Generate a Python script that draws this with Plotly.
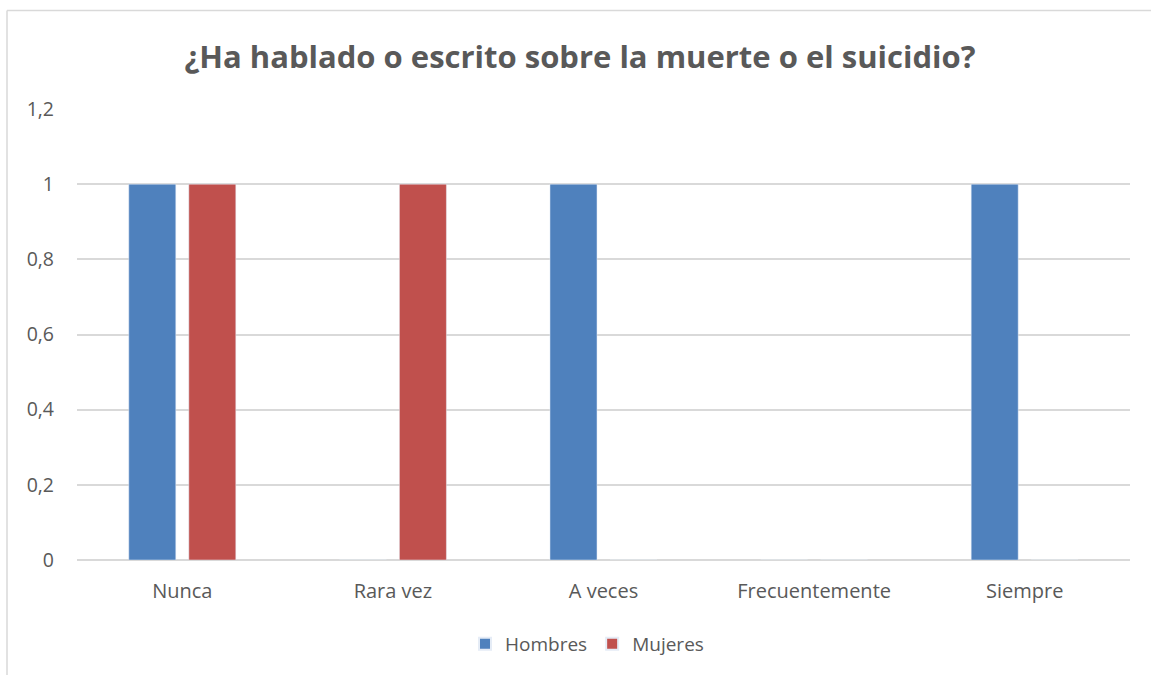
import plotly.graph_objects as go

categories = ["Nunca", "Rara vez", "A veces", "Frecuentemente", "Siempre"]
hombres = [1, 0, 1, 0, 1]
mujeres = [1, 1, 0, 0, 0]
y_ticks = [0, 0.2, 0.4, 0.6, 0.8, 1, 1.2]
y_tick_labels = ["0", "0,2", "0,4", "0,6", "0,8", "1", "1,2"]

W, H = 1151, 675
L, R, T, B = 77, 1130, 109, 560

FONT = "Open Sans"
TXT = "#595959"

fig = go.Figure()
fig.add_trace(go.Bar(name="Hombres", x=categories, y=hombres, marker_color="#4F81BD"))
fig.add_trace(go.Bar(name="Mujeres", x=categories, y=mujeres, marker_color="#C0504D"))

pw = R - L
ph = B - T
def px_x(x):
    return (x - L) / pw
def px_y(y):
    return (B - y) / ph

fig.update_layout(
    width=W, height=H,
    margin=dict(l=L, r=W - R, t=T, b=H - B, pad=0),
    paper_bgcolor="white", plot_bgcolor="white",
    barmode="group", bargap=0.43, bargroupgap=0.217,
    font=dict(family=FONT, color=TXT, size=19),
    title=dict(text="<b>¿Ha hablado o escrito sobre la muerte o el suicidio?</b>",
               x=px_x(580), xanchor="center", xref="paper", y=1 - 57 / H, yanchor="middle",
               yref="container", font=dict(size=31, color=TXT, family=FONT)),
    legend=dict(orientation="h", x=px_x(587), xanchor="center", y=px_y(644), yanchor="middle",
                font=dict(size=19, color=TXT), itemsizing="constant", itemwidth=30,
                traceorder="normal"),
    xaxis=dict(showgrid=False, showline=False, ticks="", ticklabelstandoff=17,
               tickfont=dict(size=20, color=TXT)),
    yaxis=dict(range=[0, 1.2], tickvals=y_ticks, ticktext=y_tick_labels, showgrid=True,
               gridcolor="#D9D9D9", gridwidth=1.5, zeroline=True, zerolinecolor="#D9D9D9",
               zerolinewidth=1.5, showline=False, ticks="", ticklabelstandoff=22,
               tickfont=dict(size=19.5, color=TXT)),
    shapes=[
        dict(type="line", xref="paper", yref="paper", x0=px_x(7), x1=px_x(7), y0=px_y(10.5), y1=px_y(700),
             line=dict(color="#D9D9D9", width=1.5)),
        dict(type="line", xref="paper", yref="paper", x0=px_x(7), x1=px_x(1200), y0=px_y(10.5), y1=px_y(10.5),
             line=dict(color="#D9D9D9", width=1.5)),
    ],
)
fig.write_html("out.html", config={"displayModeBar": False},
               post_script="document.body.style.margin='0px';")
